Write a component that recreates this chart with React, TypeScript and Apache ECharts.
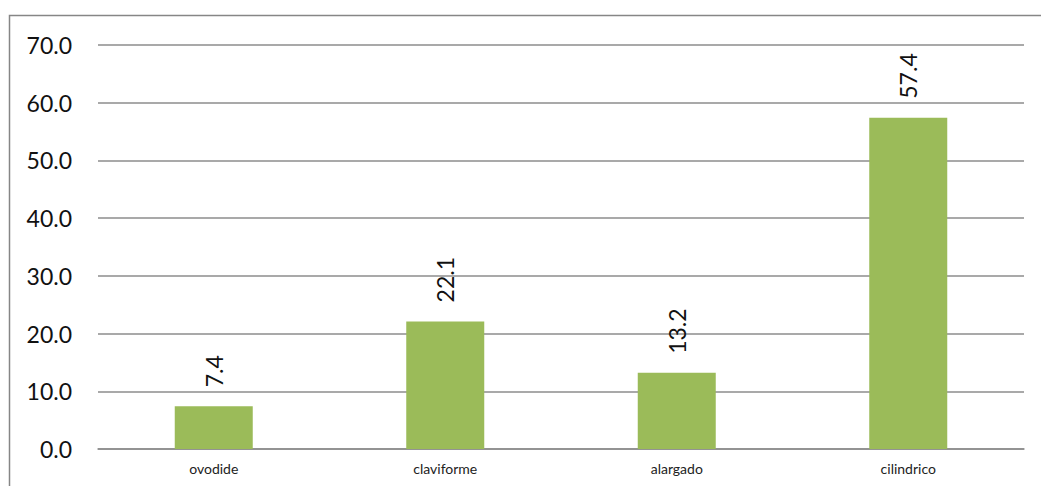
import React, { useEffect, useRef } from "react";
import * as echarts from "echarts";

const categories = ["ovodide", "claviforme", "alargado", "cilindrico"];
const values = [7.4, 22.1, 13.2, 57.4];

export default function App() {
  const ref = useRef<HTMLDivElement>(null);
  useEffect(() => {
    const chart = echarts.init(ref.current!, null, { renderer: "svg" });
    chart.setOption({
      animation: false,
      backgroundColor: "#ffffff",
      textStyle: { fontFamily: "Lato, 'Noto Sans', sans-serif" },
      graphic: [
        {
          type: "rect",
          shape: { x: 9.5, y: 15.5, width: 1040, height: 480 },
          style: { fill: "none", stroke: "#868686", lineWidth: 1.5 },
          silent: true,
        },
      ],
      grid: { left: 98, right: 17, top: 45, bottom: 37, containLabel: false },
      xAxis: {
        type: "category",
        data: categories,
        axisLine: { show: true, lineStyle: { color: "#8c8c8c", width: 1.5 } },
        axisTick: { show: false },
        axisLabel: { color: "#222", fontSize: 14, margin: 12 },
      },
      yAxis: {
        type: "value",
        min: 0,
        max: 70,
        interval: 10,
        axisLine: { show: false },
        axisTick: { show: false },
        axisLabel: {
          color: "#111",
          fontSize: 23,
          margin: 26,
          formatter: (v: number) => v.toFixed(1),
        },
        splitLine: { lineStyle: { color: "#8c8c8c", width: 1.5 } },
      },
      series: [
        {
          type: "bar",
          data: values,
          barWidth: 78,
          itemStyle: { color: "#9BBB59" },
          label: {
            show: true,
            position: "top",
            rotate: 90,
            align: "left",
            verticalAlign: "middle",
            distance: 19,
            fontSize: 23,
            color: "#111",
            formatter: (p: any) => p.value.toFixed(1),
          },
        },
      ],
    });
    return () => chart.dispose();
  }, []);
  return (
    <div
      ref={ref}
      style={{ position: "fixed", left: 0, top: 0, width: 1041, height: 486 }}
    />
  );
}
